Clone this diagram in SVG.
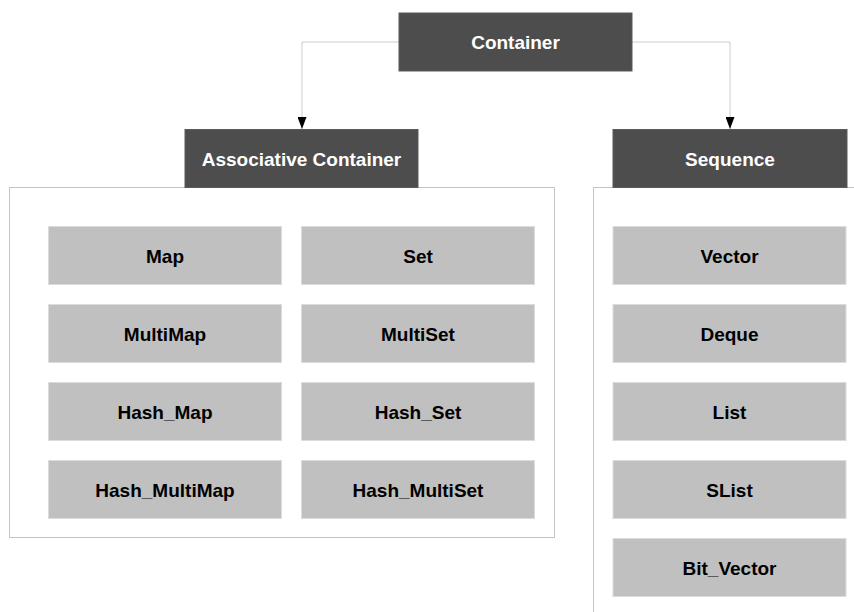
<svg xmlns="http://www.w3.org/2000/svg" width="854" height="612" viewBox="0 0 854 612">
<defs>
<style>
.hdr{fill:#4d4d4d;stroke:#5a5a5a;stroke-width:1}
.hdrt{fill:#ffffff;font-family:"Liberation Sans",Arial,sans-serif;font-weight:bold;font-size:19px;text-anchor:middle}
.box{fill:#c0c0c0;stroke:#dcdcdc;stroke-width:1}
.boxt{fill:#000000;font-family:"Liberation Sans",Arial,sans-serif;font-weight:bold;font-size:19px;text-anchor:middle}
.panel{fill:#ffffff;stroke:#c4c4c4;stroke-width:1}
.conn{fill:none;stroke:#cccccc;stroke-width:1}
</style>
<marker id="arr" viewBox="0 0 12 9" refX="12" refY="4.5" markerWidth="12" markerHeight="9" markerUnits="userSpaceOnUse" orient="auto">
<path d="M0,0 L12,4.5 L0,9 Z" fill="#000"/>
</marker>
</defs>
<rect width="854" height="612" fill="#ffffff"/>

<g id="panel-assoc"><rect class="panel" x="9.5" y="187.5" width="545" height="350"/></g>
<g id="panel-seq"><rect class="panel" x="593.5" y="187.5" width="300" height="500"/></g>

<g id="connectors">
<path class="conn" d="M399,42 H302 V129" marker-end="url(#arr)"/>
<path class="conn" d="M632,42 H730 V129" marker-end="url(#arr)"/>
</g>

<g id="container"><rect class="hdr" x="399" y="13" width="233" height="58"/><text class="hdrt" x="515.5" y="49">Container</text></g>
<g id="associative"><rect class="hdr" x="185" y="129.5" width="233" height="58"/><text class="hdrt" x="301.5" y="165.5">Associative Container</text></g>
<g id="sequence"><rect class="hdr" x="613" y="129.5" width="234" height="58"/><text class="hdrt" x="730" y="165.5">Sequence</text></g>

<g id="map"><rect class="box" x="48.5" y="226.5" width="233" height="58"/><text class="boxt" x="165" y="262.5">Map</text></g>
<g id="set"><rect class="box" x="301.5" y="226.5" width="233" height="58"/><text class="boxt" x="418" y="262.5">Set</text></g>
<g id="multimap"><rect class="box" x="48.5" y="304.5" width="233" height="58"/><text class="boxt" x="165" y="340.5">MultiMap</text></g>
<g id="multiset"><rect class="box" x="301.5" y="304.5" width="233" height="58"/><text class="boxt" x="418" y="340.5">MultiSet</text></g>
<g id="hash_map"><rect class="box" x="48.5" y="382.5" width="233" height="58"/><text class="boxt" x="165" y="418.5">Hash_Map</text></g>
<g id="hash_set"><rect class="box" x="301.5" y="382.5" width="233" height="58"/><text class="boxt" x="418" y="418.5">Hash_Set</text></g>
<g id="hash_multimap"><rect class="box" x="48.5" y="460.5" width="233" height="58"/><text class="boxt" x="165" y="496.5">Hash_MultiMap</text></g>
<g id="hash_multiset"><rect class="box" x="301.5" y="460.5" width="233" height="58"/><text class="boxt" x="418" y="496.5">Hash_MultiSet</text></g>

<g id="vector"><rect class="box" x="613" y="226.5" width="233" height="58"/><text class="boxt" x="729.5" y="262.5">Vector</text></g>
<g id="deque"><rect class="box" x="613" y="304.5" width="233" height="58"/><text class="boxt" x="729.5" y="340.5">Deque</text></g>
<g id="list"><rect class="box" x="613" y="382.5" width="233" height="58"/><text class="boxt" x="729.5" y="418.5">List</text></g>
<g id="slist"><rect class="box" x="613" y="460.5" width="233" height="58"/><text class="boxt" x="729.5" y="496.5">SList</text></g>
<g id="bit_vector"><rect class="box" x="613" y="538.5" width="233" height="58"/><text class="boxt" x="729.5" y="574.5">Bit_Vector</text></g>
</svg>
